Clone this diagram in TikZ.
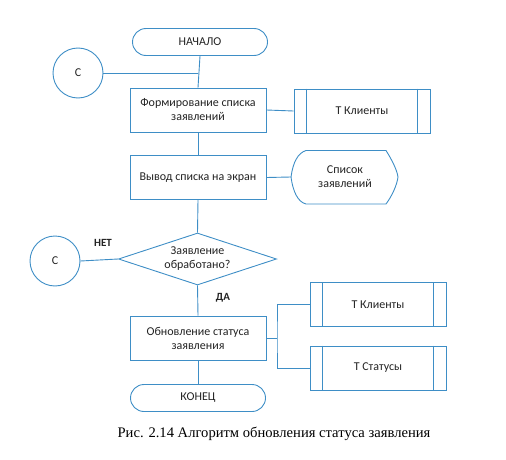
\documentclass[tikz,border=0pt]{standalone}
\usepackage{fontspec}
\usetikzlibrary{shapes.geometric}
\setmainfont{Carlito}
\newfontfamily\capfont{Liberation Serif}
\definecolor{fblue}{RGB}{62,142,198}
\definecolor{ftext}{RGB}{35,35,35}
\begin{document}
\begin{tikzpicture}[x=1pt,y=-1pt,
  every node/.style={text=ftext,font=\fontsize{12}{14}\selectfont,align=center,inner sep=0pt},
  line/.style={draw=fblue,line width=0.9pt},
  term/.style={line,rounded corners=13.5pt,minimum width=135pt,minimum height=27pt},
  proc/.style={line,minimum width=136pt,minimum height=44pt},
  tbl/.style={line,minimum width=136pt,minimum height=44pt},
  conn/.style={line,circle,minimum size=50pt},
  dec/.style={line,diamond,aspect=3.04,minimum width=158pt,minimum height=52pt,inner sep=0pt},
  lbl/.style={font=\fontsize{11}{13}\selectfont\bfseries}
]
\useasboundingbox (0,0) rectangle (506,460);
\node[term] (start) at (200,42) {НАЧАЛО};
\node[conn] (c1) at (78,73) {С};
\node[proc] (p1) at (198,110) {Формирование списка\\заявлений};
\node[tbl] (t1) at (362,111) {Т Клиенты};
\node[proc] (p2) at (198,177.5) {Вывод списка на экран};
\node (disp) at (345,177) {Список\\заявлений};
\coordinate (dl) at (291,177);
\node[dec] (d) at (197.5,259) {Заявление\\обработано?};
\node[conn] (c2) at (55,261) {С};
\node[proc] (p3) at (198,338) {Обновление статуса\\заявления};
\node[tbl] (t2) at (378,304.5) {Т Клиенты};
\node[tbl] (t3) at (378,368) {Т Статусы};
\node[term] (end) at (198,398) {КОНЕЦ};
\node[lbl] (net) at (103,243) {НЕТ};
\node[lbl] (da) at (223,298) {ДА};
\node[font=\capfont\fontsize{14.6}{17}\selectfont,text=black] (cap) at (274,434) {Рис. 2.14 Алгоритм обновления статуса заявления};
% table inner bars
\foreach \t in {t1,t2,t3}{
  \draw[line] ([xshift=13pt]\t.north west) -- ([xshift=13pt]\t.south west);
  \draw[line] ([xshift=-13pt]\t.north east) -- ([xshift=-13pt]\t.south east);
}
% display shape
\draw[line] (dl) .. controls (293,162) and (298,153) .. (306,150.5) -- (386,150.5)
  .. controls (392,160) and (397,170) .. (398,177)
  .. controls (397,185) and (392,196) .. (386,204) -- (306,204)
  .. controls (298,202) and (293,192) .. (dl);
% connectors
\coordinate (j1) at (198,73);
\draw[line] (start.south) -- (p1.north);
\draw[line] (c1.east) -- (j1);
\draw[line] (p1.east) -- (t1.west);
\draw[line] (p1.south) -- (p2.north);
\draw[line] (p2.east) -- (dl);
\draw[line] (p2.south) -- (d.north);
\draw[line] (d.west) -- (c2.east);
\draw[line] (d.south) -- (p3.north);
\draw[line] (p3.south) -- (end.north);
\coordinate (j2) at (277,338);
\draw[line] (p3.east) -- (j2);
\draw[line] (t2.west) -| (j2) |- (t3.west);
\end{tikzpicture}
\end{document}
